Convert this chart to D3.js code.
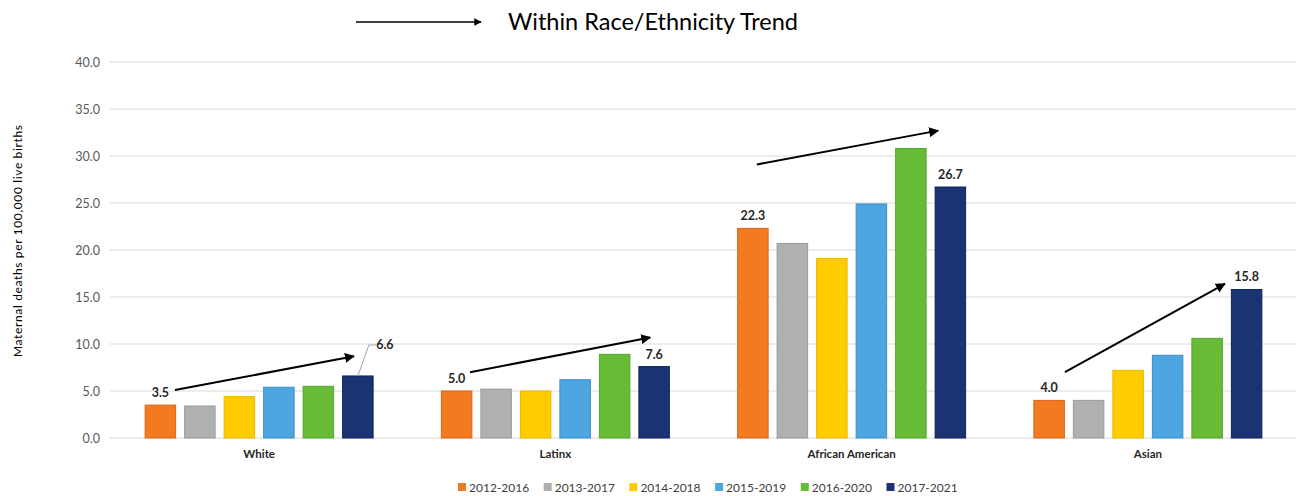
<!DOCTYPE html>
<html>
<head>
<meta charset="utf-8">
<script src="https://cdn.jsdelivr.net/npm/d3@7"></script>
<style>
  html, body { margin: 0; padding: 0; background: #fff; }
  svg { display: block; }
  text { font-family: Lato, "Open Sans", sans-serif; }
</style>
</head>
<body>
<svg id="chart" width="1298" height="496"></svg>
<script>
const categories = ["White", "Latinx", "African American", "Asian"];
const series = ["2012-2016", "2013-2017", "2014-2018", "2015-2019", "2016-2020", "2017-2021"];
const values2012_2016 = [3.5, 5.0, 22.3, 4.0];
const values2013_2017 = [3.4, 5.2, 20.7, 4.0];
const values2014_2018 = [4.4, 5.0, 19.1, 7.2];
const values2015_2019 = [5.4, 6.2, 24.9, 8.8];
const values2016_2020 = [5.5, 8.9, 30.8, 10.6];
const values2017_2021 = [6.6, 7.6, 26.7, 15.8];
const yTicks = [0, 5, 10, 15, 20, 25, 30, 35, 40];
const colors = ["#F27B22", "#B0B0B0", "#FFCC00", "#4DA6E0", "#67BB37", "#1B3372"];
const strokes = ["#D9651A", "#9A9A9A", "#E8B800", "#3B8FCB", "#55A52A", "#0F2456"];
// labelled bars: [category, series index]
const labelled = [["White",0],["White",5],["Latinx",0],["Latinx",5],["African American",0],["African American",5],["Asian",0],["Asian",5]];
// trend arrows in data units: series position (fractional) and value
const trendArrows = [
  {cat: "White", s0: 0.87, v0: 5.1, s1: 5.4, v1: 8.7},
  {cat: "Latinx", s0: 0.84, v0: 7.0, s1: 5.4, v1: 10.7},
  {cat: "African American", s0: 0.6, v0: 29.1, s1: 5.19, v1: 32.7},
  {cat: "Asian", s0: 0.9, v0: 7.0, s1: 4.95, v1: 16.4}
];

const allValues = [values2012_2016, values2013_2017, values2014_2018, values2015_2019, values2016_2020, values2017_2021];
const data = categories.map((c, i) => ({cat: c, vals: series.map((s, j) => ({s, j, v: allValues[j][i]}))}));

const svg = d3.select("#chart");

const x0 = d3.scaleBand().domain(categories).range([111, 1296]).paddingInner(0.2).paddingOuter(0.1);
const x1 = d3.scaleBand().domain(series).range([0, x0.bandwidth()]).paddingInner(0.228).paddingOuter(0.114);
const y = d3.scaleLinear().domain([0, 40]).range([438, 62]);
const sx = (cat, s) => x0(cat) + x1(series[0]) - x1.step() * x1.paddingInner() / 2 + s * x1.step();

// defs arrowhead
const defs = svg.append("defs");
defs.append("marker").attr("id", "ah").attr("viewBox", "0 0 10 10").attr("refX", 9).attr("refY", 5)
  .attr("markerWidth", 5).attr("markerHeight", 5).attr("orient", "auto")
  .append("path").attr("d", "M0,0 L10,5 L0,10 Z").attr("fill", "#000");

// grid
const yAxis = d3.axisLeft(y).tickValues(yTicks).tickFormat(d3.format(".1f")).tickSize(0).tickPadding(0);
const ga = svg.append("g").attr("transform", "translate(100,0)").call(yAxis);
ga.select(".domain").remove();
ga.selectAll("text").attr("fill", "#595959").attr("font-size", 12.5).attr("x", 0);

svg.append("g").selectAll("line").data(yTicks).join("line")
  .attr("x1", 110).attr("x2", 1296).attr("y1", d => y(d)).attr("y2", d => y(d))
  .attr("stroke", "#D9D9D9").attr("stroke-width", 1);

// bars
const groups = svg.append("g").selectAll("g").data(data).join("g")
  .attr("transform", d => `translate(${x0(d.cat)},0)`);
groups.selectAll("rect").data(d => d.vals).join("rect")
  .attr("x", d => x1(d.s)).attr("width", x1.bandwidth())
  .attr("y", d => y(d.v)).attr("height", d => y(0) - y(d.v))
  .attr("fill", d => colors[d.j]).attr("stroke", d => strokes[d.j]).attr("stroke-width", 1);

// category labels
const xAxis = d3.axisBottom(x0).tickSize(0).tickPadding(0);
const gx = svg.append("g").attr("transform", "translate(0,450)").call(xAxis);
gx.select(".domain").remove();
gx.selectAll("text").attr("font-size", 11.5).attr("font-weight", "bold").attr("fill", "#262626");

// value labels
labelled.forEach(([cat, j]) => {
  const i = categories.indexOf(cat);
  const v = allValues[j][i];
  const cx = x0(cat) + x1(series[j]) + x1.bandwidth() / 2;
  if (cat === "White" && j === 5) {
    const tx = cx + 27, ty = y(v) - 31;
    svg.append("polyline")
      .attr("points", `${cx},${y(v)} ${cx + 11},${ty} ${cx + 18},${ty}`)
      .attr("fill", "none").attr("stroke", "#A6A6A6").attr("stroke-width", 1);
    svg.append("text").attr("x", tx).attr("y", ty + 4).attr("text-anchor", "middle")
      .attr("font-size", 12.5).attr("font-weight", "bold").attr("fill", "#262626").text(d3.format(".1f")(v));
  } else {
    svg.append("text").attr("x", cx).attr("y", y(v) - 8).attr("text-anchor", "middle")
      .attr("font-size", 12.5).attr("font-weight", "bold").attr("fill", "#262626").text(d3.format(".1f")(v));
  }
});

// trend arrows
svg.append("g").selectAll("line").data(trendArrows).join("line")
  .attr("x1", d => sx(d.cat, d.s0)).attr("y1", d => y(d.v0))
  .attr("x2", d => sx(d.cat, d.s1)).attr("y2", d => y(d.v1))
  .attr("stroke", "#000").attr("stroke-width", 2).attr("marker-end", "url(#ah)");

// title with arrow
svg.append("line").attr("x1", 356).attr("y1", 22).attr("x2", 481).attr("y2", 22)
  .attr("stroke", "#000").attr("stroke-width", 1.5).attr("marker-end", "url(#ah)");
svg.append("text").attr("x", 508).attr("y", 30).attr("font-size", 23.5).attr("fill", "#000")
  .text("Within Race/Ethnicity Trend");

// y title
svg.append("text").attr("transform", "translate(22,241) rotate(-90)").attr("text-anchor", "middle")
  .attr("font-size", 12).attr("fill", "#000")
  .attr("textLength", 232).attr("lengthAdjust", "spacing")
  .text("Maternal deaths per 100,000 live births");

// legend
const lg = svg.append("g").selectAll("g").data(series).join("g")
  .attr("transform", (d, i) => `translate(${458 + i * 85.7},483)`);
lg.append("rect").attr("width", 8).attr("height", 8).attr("fill", (d, i) => colors[i]);
lg.append("text").attr("x", 11).attr("y", 8.5).attr("font-size", 12).attr("fill", "#404040").text(d => d);
</script>
</body>
</html>
